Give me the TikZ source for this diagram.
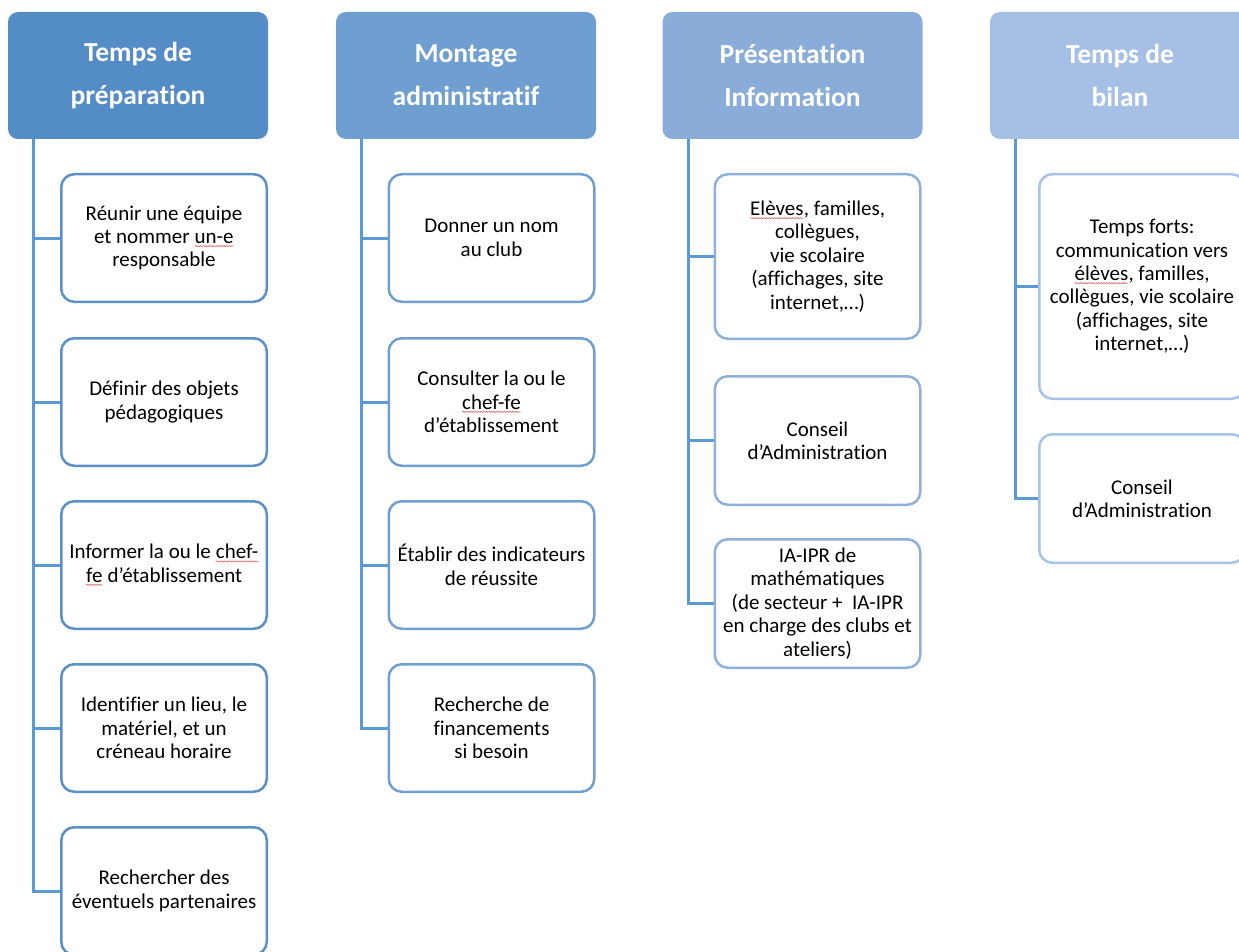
\documentclass[tikz,border=0pt]{standalone}
\usepackage{fontspec}
\setmainfont{Carlito}[Ligatures=NoCommon]
\usetikzlibrary{decorations.pathmorphing}
\definecolor{hA}{HTML}{548DC6}
\definecolor{hB}{HTML}{6E9FD0}
\definecolor{hC}{HTML}{89ADD8}
\definecolor{hD}{HTML}{A5C0E4}
\definecolor{bA}{HTML}{5A90C8}
\definecolor{bB}{HTML}{70A0D2}
\definecolor{bC}{HTML}{8DB0DC}
\definecolor{bD}{HTML}{A8C3E6}
\definecolor{connc}{HTML}{5B9BD5}
\definecolor{wavered}{HTML}{E26A6A}
\newcommand\sqw[1]{\tikz[baseline=(w.base), x=1pt, y=1pt, sharp corners]{\node[inner sep=0pt,outer sep=0pt,minimum width=0pt,minimum height=0pt,draw=none,fill=none,rectangle] (w) {#1};
  \draw[wavered, line width=0.6pt, sharp corners, decorate, decoration={snake, amplitude=0.6pt, segment length=2.6pt}]
  ([yshift=-2.6pt]w.base west) -- ([yshift=-2.6pt]w.base east);}}
\begin{document}
\begin{tikzpicture}[x=1pt,y=-1pt,
  hdr/.style={rectangle, rounded corners=10pt, minimum width=260pt, minimum height=127pt,
    inner sep=0pt, text=white, align=center, font=\bfseries\fontsize{27.5}{43}\selectfont},
  card/.style={rectangle, rounded corners=13pt, line width=2.5pt, fill=white,
    minimum width=205.5pt, minimum height=127.5pt, inner sep=0pt, align=center,
    text=black, font=\fontsize{21}{23.4}\selectfont},
  conn/.style={draw=connc, line width=3pt}]
\useasboundingbox (0,0) rectangle (1239,952);
\clip (0,0) rectangle (1239,952);

% headers
\node[hdr, fill=hA] (h1) at (138,75.5) {Temps de\\préparation};
\node[hdr, fill=hB] (h2) at (466,75.5) {Montage\\administratif};
\node[hdr, fill=hC] (h3) at (792.5,75.5) {Présentation\\Information};
\node[hdr, fill=hD] (h4) at (1120,75.5) {Temps de\\bilan};

\coordinate (t1) at ([xshift=26pt]h1.south west);
\coordinate (t2) at ([xshift=26pt]h2.south west);
\coordinate (t3) at ([xshift=26pt]h3.south west);
\coordinate (t4) at ([xshift=26pt]h4.south west);

% column 1
\node[card, draw=bA] (b11) at (164,238) {Réunir une équipe\\et nommer \sqw{un-e}\\responsable};
\node[card, draw=bA] (b12) at (164,402) {Définir des objets\\pédagogiques};
\node[card, draw=bA] (b13) at (164,565) {Informer la ou le \sqw{chef-}\\\sqw{fe} d’établissement};
\node[card, draw=bA] (b14) at (164,728) {Identifier un lieu, le\\matériel, et un\\créneau horaire};
\node[card, draw=bA] (b15) at (164,891) {Rechercher des\\éventuels partenaires};

% column 2
\node[card, draw=bB] (b21) at (491.5,238) {Donner un nom\\au club};
\node[card, draw=bB] (b22) at (491.5,402) {Consulter la ou le\\\sqw{chef-fe}\\d’établissement};
\node[card, draw=bB] (b23) at (491.5,565) {Établir des indicateurs\\de réussite};
\node[card, draw=bB] (b24) at (491.5,728) {Recherche de\\financements\\si besoin};

% column 3
\node[card, draw=bC, minimum height=164.5pt] (b31) at (817.5,256.5) {\sqw{Elèves}, familles,\\collègues,\\vie scolaire\\(affichages, site\\internet,…)};
\node[card, draw=bC, minimum height=128.5pt] (b32) at (817.5,440.5) {Conseil\\d’Administration};
\node[card, draw=bC, minimum height=128.5pt] (b33) at (817.5,603.5) {IA-IPR de\\mathématiques\\(de secteur +\ \ IA-IPR\\en charge des clubs et\\ateliers)};

% column 4
\node[card, draw=bD, minimum height=224.5pt] (b41) at (1142,286.5) {Temps forts:\\communication vers\\\sqw{élèves}, familles,\\collègues, vie scolaire\\(affichages, site\\internet,…)};
\node[card, draw=bD, minimum height=128.5pt] (b42) at (1142,498.5) {Conseil\\d’Administration};

% connectors
\foreach \b in {b11,b12,b13,b14,b15} \draw[conn] (t1) |- (\b.west);
\foreach \b in {b21,b22,b23,b24} \draw[conn] (t2) |- (\b.west);
\foreach \b in {b31,b32,b33} \draw[conn] (t3) |- (\b.west);
\foreach \b in {b41,b42} \draw[conn] (t4) |- (\b.west);
\end{tikzpicture}
\end{document}
